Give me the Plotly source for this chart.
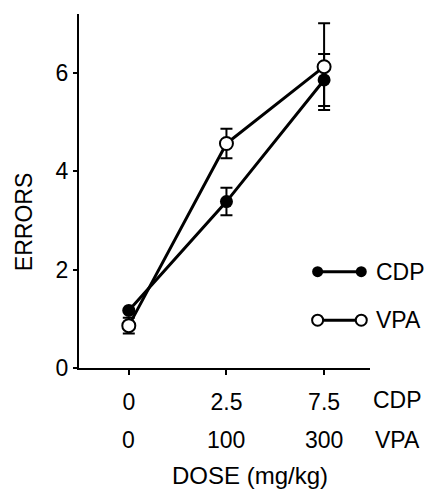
import plotly.graph_objects as go

# Data
positions = [0, 1, 2]
cdp_doses = ["0", "2.5", "7.5"]
vpa_doses = ["0", "100", "300"]
cdp_errors = [1.17, 3.38, 5.85]
cdp_sem = [0.0, 0.28, 0.53]
vpa_errors = [0.86, 4.56, 6.12]
vpa_sem = [0.16, 0.30, 0.88]
y_ticks = [0, 2, 4, 6]

FONT = "Liberation Sans, Arial, Helvetica, sans-serif"
FS = 23

fig = go.Figure()

fig.add_trace(go.Scatter(
    x=positions, y=cdp_errors, mode="lines+markers", name="CDP",
    line=dict(color="black", width=3),
    marker=dict(symbol="circle", size=13, color="black"),
    error_y=dict(type="data", array=cdp_sem, color="black", thickness=2, width=6),
    showlegend=False, cliponaxis=False,
))
fig.add_trace(go.Scatter(
    x=positions, y=vpa_errors, mode="lines+markers", name="VPA",
    line=dict(color="black", width=3),
    marker=dict(symbol="circle", size=13, color="white", line=dict(color="black", width=2)),
    error_y=dict(type="data", array=vpa_sem, color="black", thickness=2, width=6),
    showlegend=False, cliponaxis=False,
))

# Legend samples on an invisible overlay axis (0..1)
fig.add_trace(go.Scatter(
    x=[0.82, 0.97], y=[0.272, 0.272], mode="lines+markers",
    line=dict(color="black", width=3),
    marker=dict(symbol="circle", size=11, color="black"),
    xaxis="x2", yaxis="y2", showlegend=False, cliponaxis=False, hoverinfo="skip",
))
fig.add_trace(go.Scatter(
    x=[0.82, 0.97], y=[0.135, 0.135], mode="lines+markers",
    line=dict(color="black", width=3),
    marker=dict(symbol="circle", size=11, color="white", line=dict(color="black", width=2)),
    xaxis="x2", yaxis="y2", showlegend=False, cliponaxis=False, hoverinfo="skip",
))

annotations = []
for lab, yy in [("CDP", 0.272), ("VPA", 0.135)]:
    annotations.append(dict(xref="paper", yref="paper", x=1.015, y=yy, text=lab,
                            showarrow=False, xanchor="left", yanchor="middle",
                            font=dict(family=FONT, size=FS, color="black")))

# second row of x tick labels (VPA doses)
for p, t in zip(positions, vpa_doses):
    annotations.append(dict(xref="x", yref="paper", x=p, y=0, yshift=-72, text=t,
                            showarrow=False, xanchor="center", yanchor="middle",
                            font=dict(family=FONT, size=FS, color="black")))
# row labels
annotations.append(dict(xref="paper", yref="paper", x=1.096, y=0, yshift=-32, text="CDP",
                        showarrow=False, xanchor="center", yanchor="middle",
                        font=dict(family=FONT, size=FS, color="black")))
annotations.append(dict(xref="paper", yref="paper", x=1.096, y=0, yshift=-72, text="VPA",
                        showarrow=False, xanchor="center", yanchor="middle",
                        font=dict(family=FONT, size=FS, color="black")))
# x title
annotations.append(dict(xref="paper", yref="paper", x=0.588, y=0, yshift=-107,
                        text="DOSE (mg/kg)", showarrow=False, xanchor="center",
                        yanchor="middle", font=dict(family=FONT, size=24, color="black")))
# y title
annotations.append(dict(xref="paper", yref="paper", x=-0.189, y=0.412, text="ERRORS",
                        textangle=-90, showarrow=False, xanchor="center",
                        yanchor="middle", font=dict(family=FONT, size=23, color="black")))

fig.update_layout(
    width=425, height=491,
    margin=dict(l=79, r=55, t=14, b=123),
    paper_bgcolor="white", plot_bgcolor="white",
    font=dict(family=FONT, size=FS, color="black"),
    xaxis=dict(range=[-0.51, 2.47], tickvals=positions, ticktext=cdp_doses,
               showgrid=False, zeroline=False, showline=True, linecolor="black",
               linewidth=2, ticks="outside", ticklen=5, tickwidth=2, tickcolor="black",
               tickfont=dict(family=FONT, size=FS), ticklabelstandoff=7),
    yaxis=dict(range=[0, 7.19], tickvals=y_ticks, showgrid=False, zeroline=False,
               showline=True, linecolor="black", linewidth=2, ticks="outside",
               ticklen=4, tickwidth=2, tickcolor="black",
               tickfont=dict(family=FONT, size=FS)),
    xaxis2=dict(range=[0, 1], overlaying="x", visible=False),
    yaxis2=dict(range=[0, 1], overlaying="y", visible=False),
    annotations=annotations,
)

fig.write_html(
    "out.html",
    config={"displayModeBar": False},
    post_script="document.body.style.margin='0';document.body.style.overflow='hidden';",
)
